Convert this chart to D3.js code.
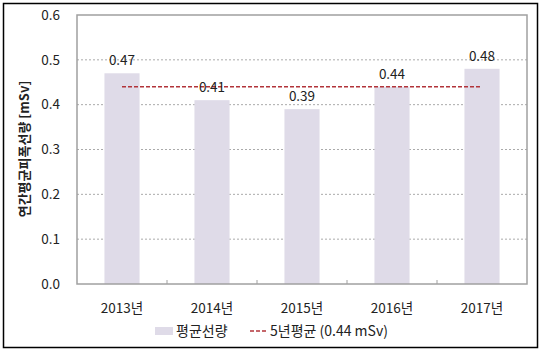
<!DOCTYPE html>
<html>
<head>
<meta charset="utf-8">
<script src="https://cdn.jsdelivr.net/npm/d3@7"></script>
<style>
  body { margin: 0; background: #fff; }
  text { font-family: "Noto Sans CJK KR", "Noto Sans", sans-serif; fill: #222; }
</style>
</head>
<body>
<svg id="chart" width="548" height="353"></svg>
<script>
const years = ['2013년', '2014년', '2015년', '2016년', '2017년'];
const doses = [0.47, 0.41, 0.39, 0.44, 0.48];
const average = 0.44;
const yTicks = [0.0, 0.1, 0.2, 0.3, 0.4, 0.5, 0.6];

const svg = d3.select('#chart');
const margin = { top: 15, right: 21, bottom: 69, left: 77 };
const width = 548 - margin.left - margin.right;
const height = 353 - margin.top - margin.bottom;

// outer frame
svg.append('rect')
    .attr('x', 3.5).attr('y', 3.5)
    .attr('width', 534).attr('height', 344)
    .attr('fill', 'none').attr('stroke', '#000').attr('stroke-width', 1.5);

const g = svg.append('g')
    .attr('transform', `translate(${margin.left},${margin.top})`);

const x = d3.scaleBand()
    .domain(years)
    .range([0, width])
    .paddingInner(0.61)
    .paddingOuter(0.305);

const y = d3.scaleLinear()
    .domain([0, 0.6])
    .range([height, 0]);

// grid lines
g.selectAll('.grid')
    .data(yTicks.filter(t => t > 0 && t < 0.6))
    .enter().append('line')
    .attr('x1', 0).attr('x2', width)
    .attr('y1', d => y(d)).attr('y2', d => y(d))
    .attr('stroke', '#aaa')
    .attr('stroke-dasharray', '2,2');

// bars
g.selectAll('.bar')
    .data(doses)
    .enter().append('rect')
    .attr('x', (d, i) => x(years[i]))
    .attr('y', d => y(d))
    .attr('width', x.bandwidth())
    .attr('height', d => height - y(d))
    .attr('fill', '#dfdbe8');

// plot border
g.append('rect')
    .attr('width', width).attr('height', height)
    .attr('fill', 'none').attr('stroke', '#a0a0a0').attr('stroke-width', 1.5);

// category separator ticks
const step = width / years.length;
g.selectAll('.xtick')
    .data(d3.range(1, years.length))
    .enter().append('line')
    .attr('x1', d => d * step).attr('x2', d => d * step)
    .attr('y1', height).attr('y2', height - 4)
    .attr('stroke', '#a0a0a0');

// average line
const cx = d => x(d) + x.bandwidth() / 2;
g.append('line')
    .attr('x1', cx(years[0])).attr('x2', cx(years[years.length - 1]))
    .attr('y1', y(average)).attr('y2', y(average))
    .attr('stroke', '#b2343a')
    .attr('stroke-width', 1.5)
    .attr('stroke-dasharray', '4,2');

// value labels
g.selectAll('.val')
    .data(doses)
    .enter().append('text')
    .attr('x', (d, i) => cx(years[i]))
    .attr('y', d => y(d) - 8)
    .attr('text-anchor', 'middle')
    .attr('font-size', 13.5)
    .text(d => d.toFixed(2));

// y axis labels
g.selectAll('.ylab')
    .data(yTicks)
    .enter().append('text')
    .attr('x', -17)
    .attr('y', d => y(d))
    .attr('dy', '0.35em')
    .attr('text-anchor', 'end')
    .attr('font-size', 13.5)
    .text(d => d.toFixed(1));

// x axis labels
g.selectAll('.xlab')
    .data(years)
    .enter().append('text')
    .attr('x', d => cx(d))
    .attr('y', height + 29)
    .attr('text-anchor', 'middle')
    .attr('font-size', 13.5)
    .text(d => d);

// y axis title
svg.append('text')
    .attr('transform', 'translate(29,149) rotate(-90)')
    .attr('text-anchor', 'middle')
    .attr('font-size', 13)
    .attr('font-weight', 'bold')
    .text('연간평균피폭선량 [mSv]');

// legend
const lg = svg.append('g');
lg.append('rect')
    .attr('x', 155).attr('y', 327)
    .attr('width', 18).attr('height', 8)
    .attr('fill', '#dfdbe8');
lg.append('text')
    .attr('x', 176).attr('y', 336)
    .attr('font-size', 14)
    .text('평균선량');
lg.append('line')
    .attr('x1', 250).attr('x2', 268)
    .attr('y1', 331).attr('y2', 331)
    .attr('stroke', '#b2343a')
    .attr('stroke-width', 1.5)
    .attr('stroke-dasharray', '4,2');
lg.append('text')
    .attr('x', 270).attr('y', 336)
    .attr('font-size', 14)
    .text('5년평균 (0.44 mSv)');
</script>
</body>
</html>
